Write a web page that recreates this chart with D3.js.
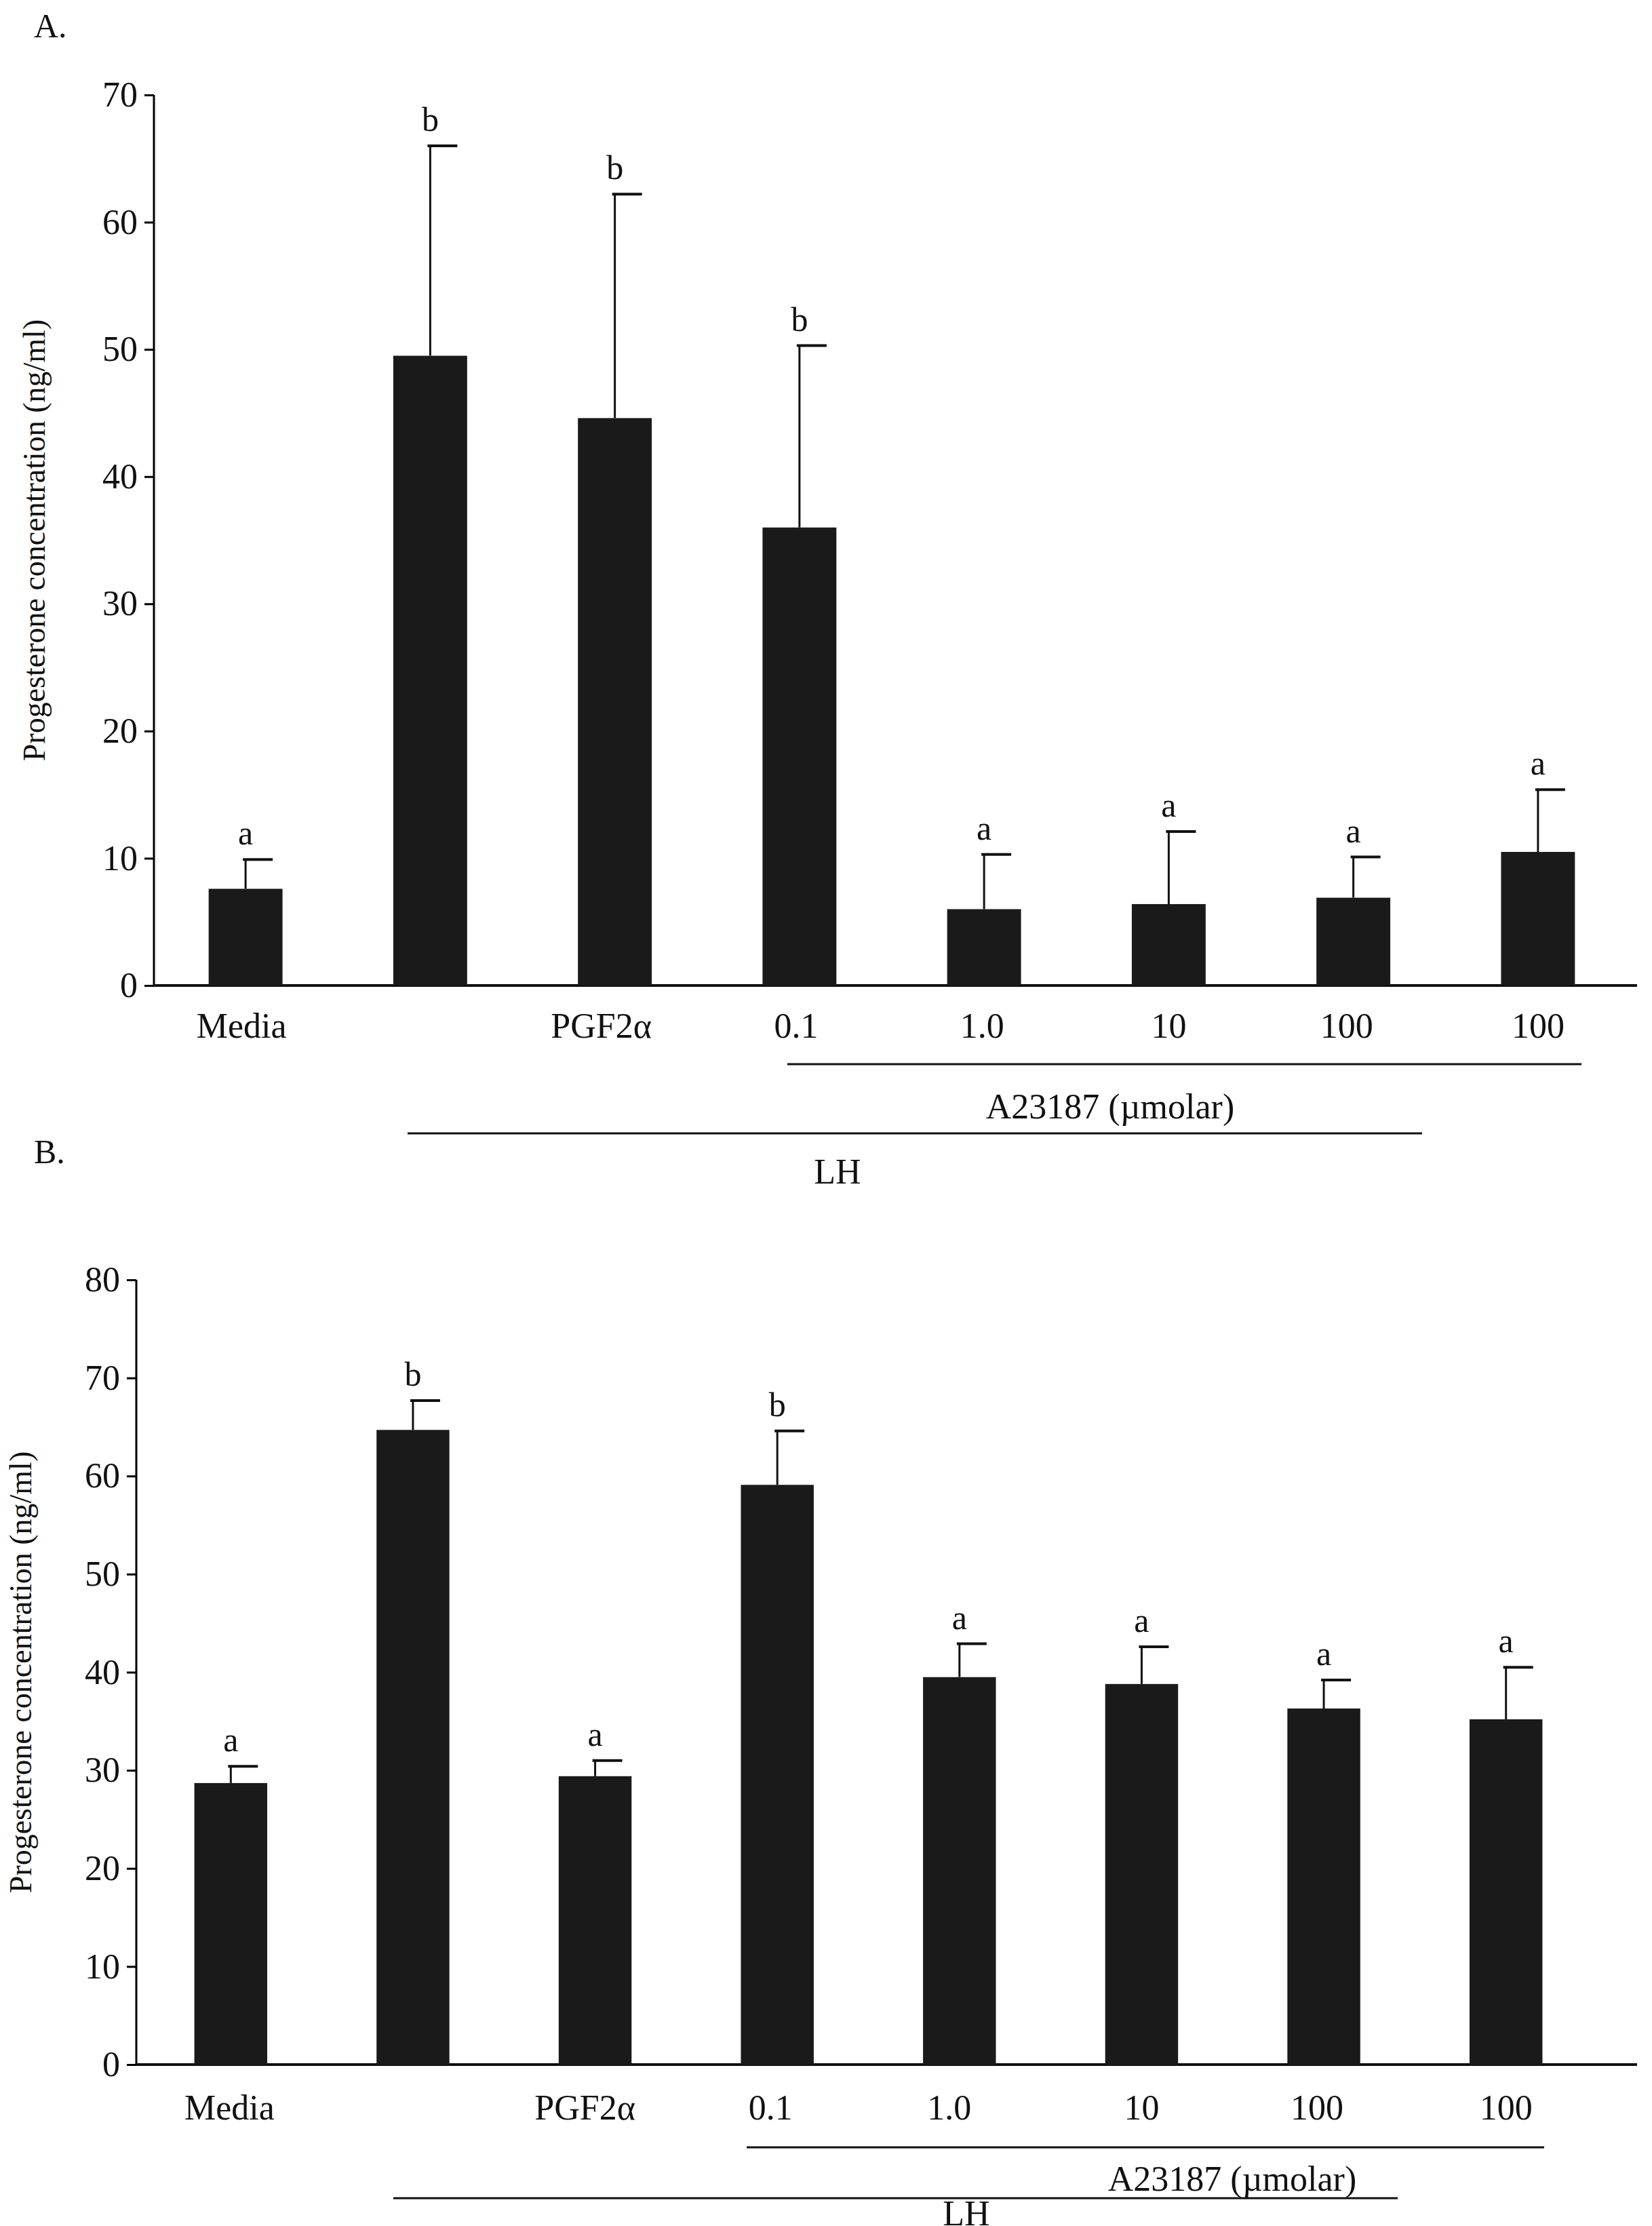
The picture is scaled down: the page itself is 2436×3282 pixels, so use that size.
<!DOCTYPE html><html><head><meta charset="utf-8"><script src="https://cdn.jsdelivr.net/npm/d3@7"></script>
<style>body{margin:0;background:#fff}text{font-family:"Liberation Serif",serif;fill:#111}</style></head><body>
<script>
const categories=["Media","","PGF2\u03b1","0.1","1.0","10","100","100"];
const valuesA=[7.6,49.5,44.6,36.0,6.0,6.4,6.9,10.5];
const upperA=[9.9,66.0,62.2,50.3,10.3,12.1,10.1,15.4];
const lettersA=["a","b","b","b","a","a","a","a"];
const valuesB=[28.7,64.7,29.4,59.1,39.5,38.8,36.3,35.2];
const upperB=[30.4,67.7,31.0,64.6,42.9,42.6,39.2,40.5];
const lettersB=["a","b","a","b","a","a","a","a"];
const ticksA=[0,10,20,30,40,50,60,70];
const ticksB=[0,10,20,30,40,50,60,70,80];
const svg=d3.select("body").append("svg").attr("width",2436).attr("height",3282);
function panel(o){
  const g=svg.append("g");
  const x=d3.scaleBand().domain(d3.range(8)).range([o.x0,o.x1]).paddingInner(0.6).paddingOuter(0.3);
  const y=d3.scaleLinear().domain([0,o.max]).range([o.yb,o.yt]);
  const ax=g.append("g").attr("transform",`translate(${o.ax},0)`).call(d3.axisLeft(y).tickValues(o.ticks).tickSize(14).tickPadding(10));
  ax.select(".domain").attr("stroke-width",3).attr("d",`M0,${o.yt}V${o.yb}`);
  ax.selectAll("line").attr("stroke-width",3);
  ax.selectAll("text").style("font-size","52px").attr("font-family","Liberation Serif");
  g.append("line").attr("x1",o.ax).attr("x2",2414).attr("y1",o.yb).attr("y2",o.yb).attr("stroke","#111").attr("stroke-width",4);
  const bw=x.bandwidth();
  o.vals.forEach((v,i)=>{
    const cx=x(i)+bw/2;
    g.append("line").attr("x1",cx).attr("x2",cx).attr("y1",y(v)).attr("y2",y(o.up[i])).attr("stroke","#111").attr("stroke-width",3);
    g.append("line").attr("x1",cx-4).attr("x2",cx+40).attr("y1",y(o.up[i])).attr("y2",y(o.up[i])).attr("stroke","#111").attr("stroke-width",4);
    g.append("rect").attr("x",x(i)).attr("y",y(v)).attr("width",bw).attr("height",o.yb-y(v)).attr("fill","#1a1a1a");
    g.append("text").attr("x",cx).attr("y",y(o.up[i])-22).attr("text-anchor","middle").style("font-size","50px").text(o.let[i]);
    g.append("text").attr("x",cx+(o.lx[i]||0)).attr("y",o.ly).attr("text-anchor","middle").style("font-size","52px").text(categories[i]);
  });
  g.append("line").attr("x1",o.a23[0]).attr("x2",o.a23[1]).attr("y1",o.a23[2]).attr("y2",o.a23[2]).attr("stroke","#111").attr("stroke-width",3);
  g.append("text").attr("x",o.a23t[0]).attr("y",o.a23t[1]).attr("text-anchor","middle").style("font-size","52px").text("A23187 (\u00b5molar)");
  g.append("line").attr("x1",o.lh[0]).attr("x2",o.lh[1]).attr("y1",o.lh[2]).attr("y2",o.lh[2]).attr("stroke","#111").attr("stroke-width",3);
  g.append("text").attr("x",o.lht[0]).attr("y",o.lht[1]).attr("text-anchor","middle").style("font-size","52px").text("LH");
  g.append("text").attr("transform",`translate(${o.ylx},${(o.yt+o.yb)/2}) rotate(-90)`).attr("text-anchor","middle").style("font-size","46px").text("Progesterone concentration (ng/ml)");
  g.append("text").attr("x",o.lab[0]).attr("y",o.lab[1]).style("font-size","50px").text(o.title);
}
panel({x0:226,x1:2404,ax:227,yb:1453,yt:140,max:70,ticks:ticksA,vals:valuesA,up:upperA,let:lettersA,ly:1530,lx:[-6,0,-20,-5,-3,0,-10,0],
  a23:[1161,2332,1569],a23t:[1637,1649],lh:[601,2097,1671],lht:[1235,1745],ylx:66,lab:[50,55],title:"A."});
panel({x0:206,x1:2355,ax:201,yb:3044,yt:1887,max:80,ticks:ticksB,vals:valuesB,up:upperB,let:lettersB,ly:3125,lx:[-2,0,-15,-10,-15,0,-10,0],
  a23:[1101,2277,3166],a23t:[1817,3230],lh:[580,2061,3241],lht:[1425,3281],ylx:46,lab:[50,1715],title:"B."});
</script></body></html>
